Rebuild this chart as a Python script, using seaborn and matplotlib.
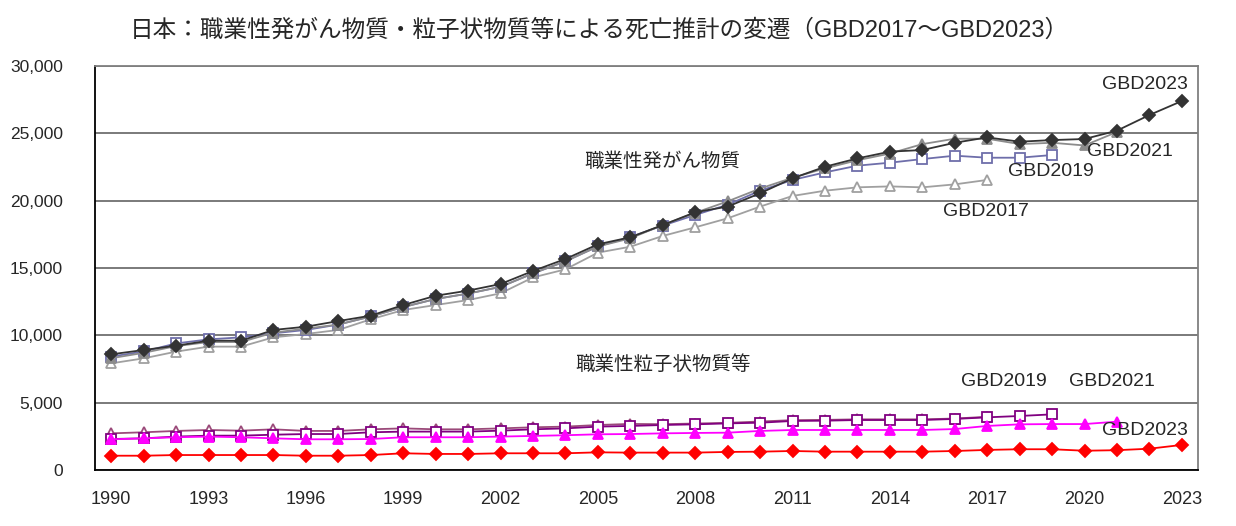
import numpy as np
import pandas as pd
import matplotlib
matplotlib.use('Agg')
import matplotlib.pyplot as plt
import seaborn as sns

sns.set_style('white')
plt.rcParams['font.family'] = ['Liberation Sans', 'Noto Sans CJK JP', 'DejaVu Sans']

years = list(range(1990, 2024))
tick_years = list(range(1990, 2024, 3))

# 職業性発がん物質 (deaths)
cancer_2017 = [7920, 8290, 8790, 9160, 9160, 9850, 10100, 10400, 11190, 11880,
               12250, 12620, 13120, 14300, 14900, 16140, 16580, 17380, 18020, 18690,
               19560, 20350, 20740, 20990, 21060, 20990, 21210, 21540]
cancer_2019 = [8420, 8800, 9400, 9700, 9850, 10150, 10400, 10800, 11400, 12100,
               12700, 13100, 13600, 14600, 15500, 16600, 17300, 18150, 18940, 19700,
               20740, 21540, 22100, 22600, 22820, 23090, 23340, 23190, 23190, 23390]
cancer_2021 = [8300, 8700, 9200, 9500, 9500, 10200, 10500, 10800, 11400, 12100,
               12700, 13100, 13600, 14600, 15500, 16600, 17200, 18200, 19100, 19950,
               20900, 21700, 22400, 23000, 23500, 24200, 24600, 24600, 24200, 24300,
               24100, 25100]
cancer_2023 = [8590, 8910, 9230, 9600, 9600, 10400, 10640, 11060, 11460, 12250,
               12940, 13320, 13810, 14780, 15670, 16760, 17280, 18190, 19140, 19560,
               20550, 21660, 22520, 23140, 23640, 23760, 24300, 24700, 24380, 24500,
               24580, 25200, 26360, 27400]

# 職業性粒子状物質等 (deaths)
part_2017 = [2720, 2800, 2900, 2970, 2920, 3020, 2900, 2900, 3020, 3090,
             3020, 3020, 3090, 3170, 3220, 3340, 3420, 3400, 3450, 3500,
             3600, 3700, 3720, 3760, 3760, 3760, 3820, 3950]
part_2019 = [2300, 2350, 2480, 2550, 2550, 2620, 2670, 2670, 2800, 2850,
             2850, 2850, 2920, 3020, 3090, 3220, 3270, 3340, 3390, 3460,
             3510, 3640, 3660, 3710, 3710, 3710, 3790, 3910, 4010, 4130]
part_2021 = [2280, 2350, 2430, 2480, 2430, 2350, 2280, 2280, 2300, 2430,
             2430, 2430, 2480, 2530, 2580, 2650, 2670, 2720, 2750, 2770,
             2900, 2970, 2970, 2970, 2970, 2970, 3040, 3270, 3390, 3410,
             3410, 3590]
part_2023 = [1060, 1060, 1110, 1110, 1110, 1110, 1060, 1060, 1110, 1240,
             1190, 1190, 1240, 1240, 1240, 1310, 1290, 1290, 1290, 1340,
             1360, 1410, 1360, 1360, 1360, 1360, 1410, 1490, 1540, 1540,
             1430, 1470, 1580, 1860]

fig = plt.figure(figsize=(12.36, 5.26), dpi=100)
ax = fig.add_axes([0.0769, 0.1065, 0.8924, 0.768])

series = [
    (cancer_2017, '#a0a0a0', '^', 'white', 7.5),
    (cancer_2019, '#6e6eaa', 's', 'white', 7),
    (cancer_2021, '#8c8c8c', '^', '#8c8c8c', 7.5),
    (cancer_2023, '#333333', 'D', '#333333', 6.5),
    (part_2017, '#9b4a7a', '^', 'white', 7.5),
    (part_2019, '#800080', 's', 'white', 7),
    (part_2021, '#ff00ff', '^', '#ff00ff', 7.5),
    (part_2023, '#ff0000', 'D', '#ff0000', 6.5),
]

for vals, col, mk, face, ms in series:
    sns.lineplot(x=years[:len(vals)], y=vals, ax=ax, color=col, marker=mk,
                 markersize=ms, markerfacecolor=face, markeredgecolor=col,
                 markeredgewidth=1.3, linewidth=1.3)

ax.set_xlim(1989.5, 2023.5)
ax.set_ylim(0, 30000)
ax.set_yticks(range(0, 30001, 5000))
ax.set_yticklabels([f'{v:,}' for v in range(0, 30001, 5000)])
ax.set_xticks(tick_years)
ax.set_xticklabels([str(y) for y in tick_years])
ax.tick_params(axis='y', labelsize=12.5, length=0, pad=23)
ax.tick_params(axis='x', labelsize=13, length=0, pad=15)
ax.yaxis.grid(True, color='#707070', linewidth=1.3)
ax.set_axisbelow(True)

for side in ['left', 'bottom']:
    ax.spines[side].set_color('black')
    ax.spines[side].set_linewidth(1.3)
for side in ['top', 'right']:
    ax.spines[side].set_color('#808080')
    ax.spines[side].set_linewidth(1.3)

txt = dict(fontsize=14, ha='center', va='center')
ax.text(2007.0, 22870, '職業性発がん物質', **txt)
ax.text(2007.0, 7800, '職業性粒子状物質等', **txt)
ax.text(2021.85, 28600, 'GBD2023', **txt)
ax.text(2021.4, 23650, 'GBD2021', **txt)
ax.text(2018.95, 22130, 'GBD2019', **txt)
ax.text(2016.95, 19160, 'GBD2017', **txt)
ax.text(2017.5, 6600, 'GBD2019', **txt)
ax.text(2020.85, 6550, 'GBD2021', **txt)
ax.text(2021.86, 2900, 'GBD2023', **txt)

fig.text(0.4846, 0.943, '日本：職業性発がん物質・粒子状物質等による死亡推計の変遷（GBD2017～GBD2023）',
         fontsize=17, ha='center', va='center')

fig.savefig('out.png', dpi=100)
